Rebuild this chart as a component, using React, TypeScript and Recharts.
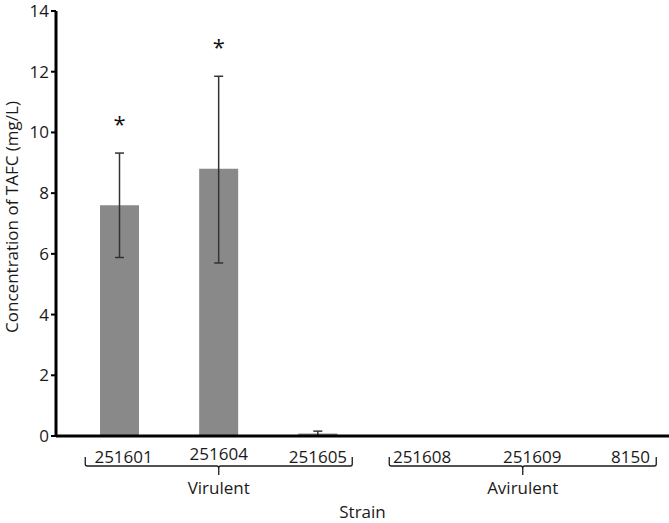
import React from 'react'
import {
  ComposedChart,
  Bar,
  ErrorBar,
  Line,
  XAxis,
  YAxis,
  Label,
} from 'recharts'

// data
const strains = ['251601', '251604', '251605', '251608', '251609', '8150']
const tafc = [7.6, 8.8, 0.08, 0, 0, 0]
const errLow = [1.72, 3.1, 0.08, 0, 0, 0]
const errHigh = [1.72, 3.05, 0.08, 0, 0, 0]
const significant = [true, true, false, false, false, false]
const groups = [
  { label: 'Virulent', mid: 1 },
  { label: 'Avirulent', mid: 4 },
]
const yTicks = [0, 2, 4, 6, 8, 10, 12, 14]

// small hand-placement nudges from the original figure
const LABEL_DX = [4, 0, 0, 5, 16, 15]
const LABEL_DY = [0, -3, 0, 0, 0, 0]
const GROUP_DX = [0, 6.5]
const BRACE_HALF = 133.5

const FONT = '"Open Sans", sans-serif'
const TEXT = '#1a1a1a'
const BAR = '#898989'

const data = strains.map((name, i) => ({
  name,
  value: tafc[i],
  err: [errLow[i], errHigh[i]],
  star: significant[i] ? tafc[i] + errHigh[i] : null,
}))

function StrainTick(props: any) {
  const { x, y, index, payload } = props
  const g = groups.findIndex((gr) => gr.mid === index)
  let brace: React.ReactNode = null
  if (g >= 0) {
    const cx = x + GROUP_DX[g]
    const l = cx - BRACE_HALF
    const r = cx + BRACE_HALF
    const by = y + 22
    const d =
      `M${l},${by - 9} L${l},${by - 2} Q${l},${by} ${l + 2},${by} ` +
      `L${cx - 2},${by} Q${cx},${by} ${cx},${by + 2} L${cx},${by + 9} ` +
      `M${cx},${by + 2} Q${cx},${by} ${cx + 2},${by} ` +
      `L${r - 2},${by} Q${r},${by} ${r},${by - 2} L${r},${by - 9}`
    brace = (
      <g>
        <path d={d} fill="none" stroke={TEXT} strokeWidth={1.3} />
        <text x={cx} y={by + 28} textAnchor="middle" fontSize={17} fill={TEXT} fontFamily={FONT}>
          {groups[g].label}
        </text>
      </g>
    )
  }
  return (
    <g>
      <text
        x={x + LABEL_DX[index]}
        y={y + 19 + LABEL_DY[index]}
        textAnchor="middle"
        fontSize={17}
        fill={TEXT}
        fontFamily={FONT}
      >
        {payload.value}
      </text>
      {brace}
    </g>
  )
}

function Star(props: any) {
  const { cx, cy, payload, index } = props
  if (payload.star == null || cy == null) return <g key={index} />
  return (
    <text key={index} x={cx} y={cy - 21} textAnchor="middle" fontSize={22} fill="#111" fontFamily={FONT}>
      *
    </text>
  )
}

export default function App() {
  return (
    <div style={{ width: 669, height: 523, background: '#fff' }}>
      <style>{`body{margin:0}`}</style>
      <ComposedChart
        width={669}
        height={523}
        data={data}
        margin={{ top: 11, right: 0, left: 0, bottom: 57 }}
      >
        <XAxis
          dataKey="name"
          height={30}
          padding={{ left: 14, right: 4 }}
          axisLine={{ stroke: '#000', strokeWidth: 3 }}
          tickLine={false}
          tick={<StrainTick />}
          interval={0}
        >
          <Label
            value="Strain"
            position="bottom"
            offset={40}
            style={{ fontSize: 17, fill: TEXT, fontFamily: FONT }}
          />
        </XAxis>
        <YAxis
          width={56}
          domain={[0, 14]}
          ticks={yTicks}
          interval={0}
          tickSize={5}
          axisLine={{ stroke: '#000', strokeWidth: 3 }}
          tickLine={{ stroke: '#000', strokeWidth: 2 }}
          tick={{ fontSize: 17, fill: TEXT, fontFamily: FONT }}
        >
          <Label
            content={() => (
              <text
                transform="translate(18, 217) rotate(-90)"
                textAnchor="middle"
                fontSize={17}
                fill={TEXT}
                fontFamily={FONT}
              >
                Concentration of TAFC (mg/L)
              </text>
            )}
          />
        </YAxis>
        <Bar dataKey="value" fill={BAR} barSize={39} isAnimationActive={false}>
          <ErrorBar dataKey="err" width={4.5} stroke="#333" strokeWidth={1.5} direction="y" />
        </Bar>
        <Line
          dataKey="star"
          stroke="none"
          dot={<Star />}
          activeDot={false}
          isAnimationActive={false}
          connectNulls={false}
        />
      </ComposedChart>
    </div>
  )
}
